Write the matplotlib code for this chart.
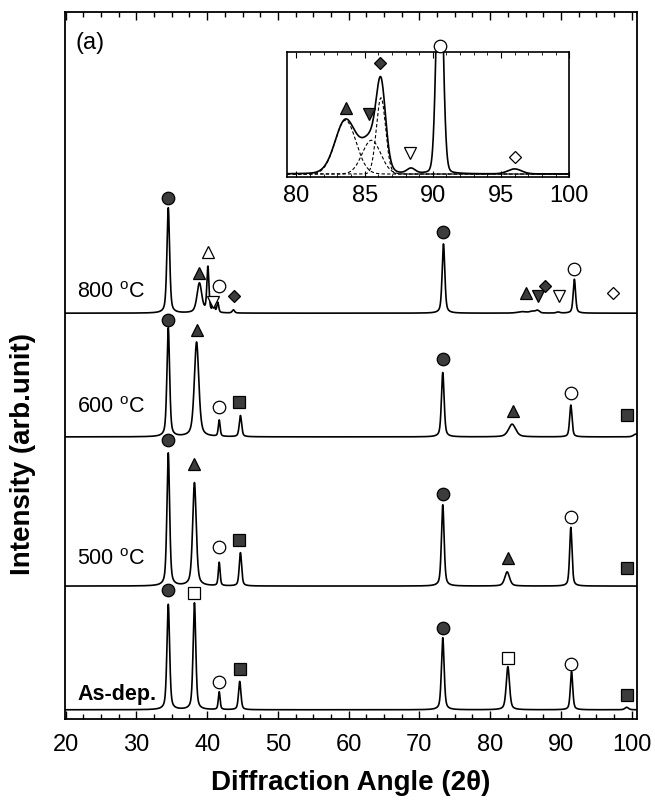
import numpy as np
import matplotlib.pyplot as plt
from matplotlib.ticker import MultipleLocator

plt.rcParams['font.family'] = ['Liberation Sans', 'DejaVu Sans']
plt.rcParams['mathtext.fontset'] = 'custom'
plt.rcParams['mathtext.rm'] = 'Liberation Sans'
plt.rcParams['mathtext.default'] = 'regular'

# ----------------------------------------------------------
# Peaks: 2theta, height, FWHM (arb. units)
# ----------------------------------------------------------
labels = ['As-dep.', '500 $^{o}$C', '600 $^{o}$C', '800 $^{o}$C']
offsets = [1.3, 18.8, 39.9, 57.4]

asdep_pos = [34.5, 38.2, 41.7, 44.6, 73.3, 82.5, 91.5, 99.3]
asdep_hgt = [14.9, 15.1, 2.5, 4.0, 10.2, 6.1, 5.4, 0.35]
asdep_fwhm = [0.45, 0.45, 0.3, 0.4, 0.45, 0.55, 0.4, 0.6]

t500_pos = [34.5, 38.2, 41.7, 44.7, 73.3, 82.4, 91.4]
t500_hgt = [18.8, 14.6, 3.3, 4.7, 11.5, 2.0, 8.3]
t500_fwhm = [0.45, 0.6, 0.3, 0.4, 0.45, 0.8, 0.4]

t600_pos = [34.5, 38.5, 41.7, 44.7, 73.3, 83.1, 91.4, 100.6]
t600_hgt = [15.4, 13.4, 2.3, 3.0, 9.1, 1.8, 4.5, 0.4]
t600_fwhm = [0.45, 0.75, 0.3, 0.4, 0.45, 1.2, 0.4, 0.8]

t800_pos = [34.5, 38.9, 40.1, 40.9, 41.5, 43.7, 73.4, 84.5, 86.0, 86.7, 89.6, 91.9]
t800_hgt = [14.9, 4.2, 6.4, 1.6, 1.4, 0.45, 9.8, 0.2, 0.25, 0.35, 0.15, 4.8]
t800_fwhm = [0.45, 0.8, 0.35, 0.3, 0.3, 0.4, 0.45, 1.5, 1.0, 0.6, 0.6, 0.4]

# phase symbols above the peaks (symbol, 2theta, height on the plot)
asdep_mk = ['fc', 'os', 'oc', 'fs', 'fc', 'os', 'oc', 'fs']
asdep_mx = [34.4, 38.2, 41.6, 44.6, 73.3, 82.5, 91.4, 99.3]
asdep_my = [18.2, 17.8, 5.2, 7.0, 12.9, 8.6, 7.8, 3.4]

t500_mk = ['fc', 'ft', 'oc', 'fs', 'fc', 'ft', 'oc', 'fs']
t500_mx = [34.4, 38.2, 41.6, 44.5, 73.3, 82.5, 91.4, 99.3]
t500_my = [39.5, 36.1, 24.3, 25.3, 31.8, 22.8, 28.6, 21.4]

t600_mk = ['fc', 'ft', 'oc', 'fs', 'fc', 'ft', 'oc', 'fs']
t600_mx = [34.4, 38.5, 41.6, 44.5, 73.3, 83.2, 91.4, 99.3]
t600_my = [56.4, 55.0, 44.1, 44.8, 50.9, 43.5, 46.1, 43.0]

t800_mk = ['fc', 'ft', 'ot', 'oc', 'ov', 'fd', 'fc', 'ft', 'fv', 'fd', 'ov', 'oc', 'od']
t800_mx = [34.4, 38.9, 40.1, 41.6, 40.8, 43.8, 73.4, 85.0, 86.7, 87.8, 89.7, 91.9, 97.3]
t800_my = [73.7, 63.1, 66.1, 61.2, 59.0, 59.8, 68.9, 60.2, 59.8, 61.2, 59.8, 63.6, 60.2]

# inset (800 C, 80-100 deg): fitted components + remaining peaks
inset_pos = [83.6, 85.5, 86.2, 88.4, 90.5, 96.0]
inset_hgt = [43, 27, 61, 4, 200, 4]
inset_fwhm = [1.8, 1.6, 0.8, 0.7, 0.55, 1.2]
inset_base = 2.4
inset_mk = ['ft', 'fv', 'fd', 'ov', 'oc', 'od']
inset_mx = [83.6, 85.3, 86.1, 88.3, 90.5, 96.0]
inset_my = [55.2, 50.4, 91.2, 19.2, 105.0, 16.0]

GREY = '#3c3c3c'
marker_style = {
    'fc': dict(marker='o', mfc=GREY, ms=9),
    'oc': dict(marker='o', mfc='white', ms=9),
    'fs': dict(marker='s', mfc=GREY, ms=8),
    'os': dict(marker='s', mfc='white', ms=8),
    'ft': dict(marker='^', mfc=GREY, ms=9),
    'ot': dict(marker='^', mfc='white', ms=9),
    'fv': dict(marker='v', mfc=GREY, ms=9),
    'ov': dict(marker='v', mfc='white', ms=9),
    'fd': dict(marker='D', mfc=GREY, ms=6.5),
    'od': dict(marker='D', mfc='white', ms=6.5),
}


def profile(x, pos, hgt, fwhm, eta=0.5):
    y = np.zeros_like(x)
    for c, h, w in zip(pos, hgt, fwhm):
        lor = 1.0 / (1.0 + ((x - c) / (w / 2)) ** 2)
        gau = np.exp(-4 * np.log(2) * ((x - c) / w) ** 2)
        y += h * (eta * lor + (1 - eta) * gau)
    return y


def draw_marks(ax, kinds, xs, ys):
    for k, mx, my in zip(kinds, xs, ys):
        ax.plot(mx, my, ls='none', mec='black', mew=0.9,
                clip_on=False, zorder=5, **marker_style[k])


fig = plt.figure(figsize=(6.55, 8.01), dpi=100)
ax = fig.add_axes([0.0992, 0.1024, 0.8733, 0.8826])

x = np.linspace(19.9, 100.75, 6000)
patterns = [
    (asdep_pos, asdep_hgt, asdep_fwhm, asdep_mk, asdep_mx, asdep_my),
    (t500_pos, t500_hgt, t500_fwhm, t500_mk, t500_mx, t500_my),
    (t600_pos, t600_hgt, t600_fwhm, t600_mk, t600_mx, t600_my),
    (t800_pos, t800_hgt, t800_fwhm, t800_mk, t800_mx, t800_my),
]
label_y = [3.4, 22.5, 44.0, 60.3]

for i, (pos, hgt, fw, mk, mx, my) in enumerate(patterns):
    y = offsets[i] + profile(x, pos, hgt, fw)
    ax.plot(x, y, color='black', lw=1.2)
    draw_marks(ax, mk, mx, my)
    ax.text(21.6, label_y[i], labels[i], fontsize=15.5,
            fontweight='bold' if i == 0 else 'normal', va='center')

ax.text(21.4, 95.6, '(a)', fontsize=17, va='center')

ax.set_xlim(19.9, 100.75)
ax.set_ylim(0, 100)
ax.set_yticks([])
ax.xaxis.set_major_locator(MultipleLocator(10))
ax.xaxis.set_minor_locator(MultipleLocator(2.5))
ax.tick_params(axis='x', which='both', direction='in', top=True, labelsize=17, pad=11)
ax.tick_params(axis='x', which='major', length=6, width=1.0)
ax.tick_params(axis='x', which='minor', length=3.5, width=1.0)
for s in ax.spines.values():
    s.set_linewidth(1.3)

ax.set_xlabel('Diffraction Angle (2θ)', fontsize=20, fontweight='bold', labelpad=10)
ax.set_ylabel('Intensity (arb.unit)', fontsize=20, fontweight='bold')
ax.yaxis.set_label_coords(-0.05, 0.375)

# ---------------- inset ----------------
axi = fig.add_axes([0.438, 0.779, 0.431, 0.156])
xi = np.linspace(79.3, 100, 3000)
for c, h, w in zip(inset_pos[:3], inset_hgt[:3], inset_fwhm[:3]):
    axi.plot(xi, inset_base + profile(xi, [c], [h], [w], eta=0.0),
             color='black', lw=0.8, ls=(0, (3, 2)))
axi.plot(xi, inset_base + profile(xi, inset_pos, inset_hgt, inset_fwhm, eta=0.1),
         color='black', lw=1.2)
draw_marks(axi, inset_mk, inset_mx, inset_my)
axi.set_xlim(79.3, 100)
axi.set_ylim(0, 100)
axi.set_yticks([])
axi.xaxis.set_major_locator(MultipleLocator(5))
axi.xaxis.set_minor_locator(MultipleLocator(1))
axi.tick_params(axis='x', which='both', direction='in', top=True, labelsize=17, pad=6)
axi.tick_params(axis='x', which='major', length=4)
axi.tick_params(axis='x', which='minor', length=2.5)
for s in axi.spines.values():
    s.set_linewidth(1.2)

fig.savefig('out.png', dpi=100)
